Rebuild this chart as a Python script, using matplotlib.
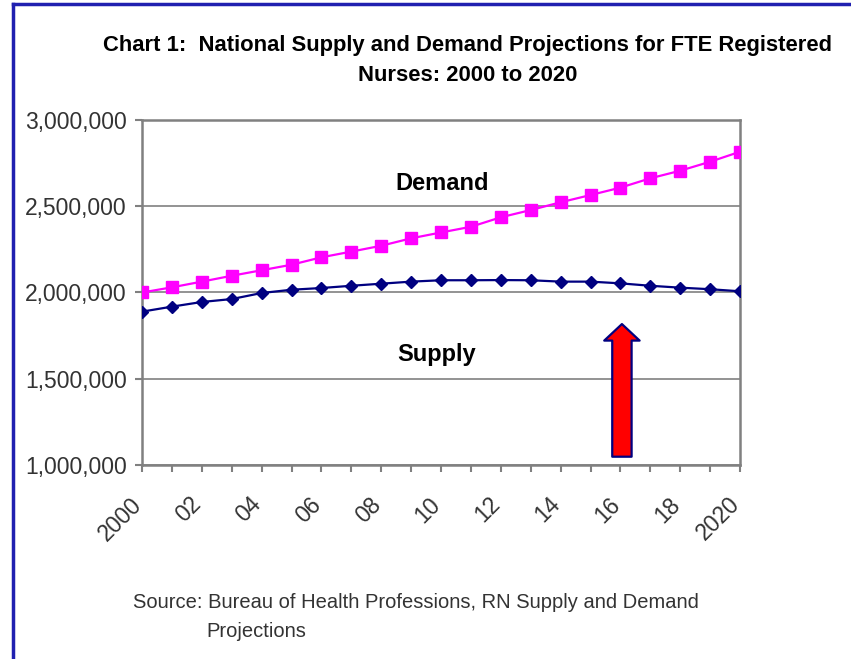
import matplotlib
matplotlib.use("Agg")
import matplotlib.pyplot as plt
import matplotlib.transforms as mtransforms
from matplotlib.lines import Line2D
from matplotlib.ticker import FuncFormatter

years = list(range(2000, 2021))
demand = [2000000, 2030000, 2063000, 2097000, 2129000, 2161000, 2204000,
          2237000, 2271000, 2314000, 2348000, 2381000, 2436000, 2478000,
          2523000, 2565000, 2608000, 2662000, 2706000, 2758000, 2816000]
supply = [1889000, 1918000, 1945000, 1962000, 1997000, 2016000, 2026000,
          2039000, 2051000, 2063000, 2071000, 2071000, 2072000, 2071000,
          2063000, 2063000, 2053000, 2039000, 2028000, 2019000, 2007000]
tick_years = list(range(2000, 2021, 2))
tick_labels = ["2000", "02", "04", "06", "08", "10", "12", "14", "16", "18", "2020"]

fig = plt.figure(figsize=(8.51, 6.59), dpi=100)
ax = fig.add_axes([0.1669, 0.2944, 0.7027, 0.5235])

gray = "#808080"
ax.plot(years, demand, color="#FF00FF", lw=1.6, marker="s", ms=8.5, zorder=3)
ax.plot(years, supply, color="#000080", lw=1.6, marker="D", ms=6.5, zorder=3)

ax.set_xlim(2000, 2020)
ax.set_ylim(1000000, 3000000)
ax.set_yticks([1000000, 1500000, 2000000, 2500000, 3000000])
ax.yaxis.set_major_formatter(FuncFormatter(lambda v, p: f"{int(v):,}"))
ax.set_xticks(years, minor=True)
ax.set_xticks(tick_years)
ax.set_xticklabels(tick_labels, rotation=45, ha="right", va="top",
                   rotation_mode="anchor")
ax.grid(axis="y", color=gray, lw=1.2)
for s in ax.spines.values():
    s.set_color(gray)
    s.set_linewidth(1.8)
ax.tick_params(axis="both", which="both", color=gray, width=1.5, length=5,
               labelsize=16.5, labelcolor="#333333")
ax.tick_params(axis="x", which="major", pad=10)
ax.tick_params(axis="y", pad=6)
shift = mtransforms.ScaledTranslation(-0.12, -0.07, fig.dpi_scale_trans)
for lab in ax.get_xticklabels():
    lab.set_family("Liberation Sans")
    lab.set_transform(lab.get_transform() + shift)
for lab in ax.get_yticklabels():
    lab.set_family("Liberation Sans")

ax.text(2010.05, 2630000, "Demand", ha="center", va="center",
        fontsize=17, fontweight="bold", family="Liberation Sans")
ax.text(2009.85, 1640000, "Supply", ha="center", va="center",
        fontsize=17, fontweight="bold", family="Liberation Sans")

# red arrow pointing up at the gap
ax.annotate("", xy=(2016.05, 1817000), xytext=(2016.05, 1048000),
            arrowprops=dict(arrowstyle="simple,head_length=0.7,head_width=1.5,tail_width=0.82",
                            fc="#FF0000", ec="#000080", lw=1.6,
                            shrinkA=0, shrinkB=0, mutation_scale=17),
            zorder=4)

fig.text(0.549, 0.931, "Chart 1:  National Supply and Demand Projections for FTE Registered",
         ha="center", va="center", fontsize=15.8, fontweight="bold",
         family="Liberation Sans")
fig.text(0.549, 0.886, "Nurses: 2000 to 2020", ha="center", va="center",
         fontsize=15.8, fontweight="bold", family="Liberation Sans")

fig.text(0.156, 0.085, "Source: Bureau of Health Professions, RN Supply and Demand",
         ha="left", va="center", fontsize=14.5, color="#333333",
         family="Liberation Sans")
fig.text(0.243, 0.042, "Projections", ha="left", va="center", fontsize=14.5,
         color="#333333", family="Liberation Sans")

# slide frame lines on the left and top
fig.add_artist(Line2D([0.0158, 0.0158], [0, 0.994], transform=fig.transFigure,
                      color="#2020B0", lw=2.5))
fig.add_artist(Line2D([0.0158, 1.0], [0.994, 0.994], transform=fig.transFigure,
                      color="#2020B0", lw=2.5))

fig.savefig("out.png", dpi=100)
